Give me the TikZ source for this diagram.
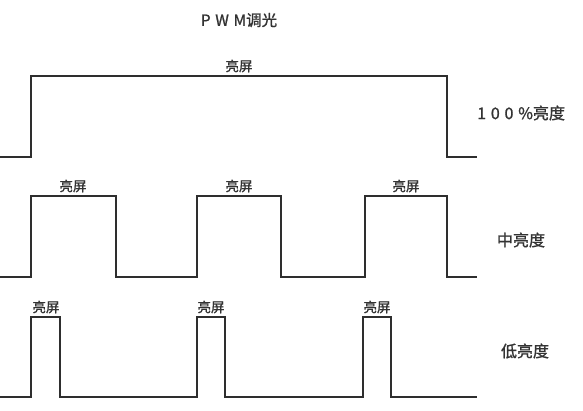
\documentclass[tikz,border=0pt]{standalone}
\usepackage{fontspec}
\newfontfamily\cjk[FakeBold=1.2]{Noto Sans CJK SC}
\newfontfamily\cjksp[LetterSpace=30,FakeBold=1.2]{Noto Sans CJK SC}
\begin{document}
\begin{tikzpicture}[x=1pt,y=-1pt,
  wave/.style={line width=1.7pt, draw=black!82, line join=miter},
  lbl/.style={font=\cjk\fontsize{13.5}{13.5}\selectfont, text=black!80, inner sep=0pt},
  side/.style={font=\cjk\fontsize{16}{16}\selectfont, text=black!80, inner sep=0pt},
  ttl/.style={font=\cjk\fontsize{15.5}{15.5}\selectfont, text=black!80, inner sep=0pt}]
\useasboundingbox (0,0) rectangle (583,411);
% title
\node[ttl] (title) at (239,20) {{\cjksp\fontsize{15.5}{15.5}\selectfont PWM}调光};
% row 1 : 100%
\draw[wave] (0,157) -- (31,157) -- (31,76) -- (447,76) -- (447,157) -- (477,157);
\node[lbl] (l1) at (239,66) {亮屏};
\node[side, anchor=west] (s1) at (477,113) {{\cjksp\fontsize{16}{16}\selectfont 100\%}亮度};
% row 2 : medium
\draw[wave] (0,277) -- (31,277) -- (31,196) -- (116,196) -- (116,277)
  -- (197,277) -- (197,196) -- (281,196) -- (281,277)
  -- (365,277) -- (365,196) -- (447,196) -- (447,277) -- (477,277);
\node[lbl] (l21) at (73,186) {亮屏};
\node[lbl] (l22) at (239,186) {亮屏};
\node[lbl] (l23) at (406,186) {亮屏};
\node[side] (s2) at (521,240) {中亮度};
% row 3 : low
\draw[wave] (0,397) -- (31,397) -- (31,317) -- (60,317) -- (60,397)
  -- (197,397) -- (197,317) -- (225,317) -- (225,397)
  -- (363,397) -- (363,317) -- (391,317) -- (391,397) -- (477,397);
\node[lbl] (l31) at (46,307) {亮屏};
\node[lbl] (l32) at (211,307) {亮屏};
\node[lbl] (l33) at (377,307) {亮屏};
\node[side] (s3) at (525,351) {低亮度};
\end{tikzpicture}
\end{document}
